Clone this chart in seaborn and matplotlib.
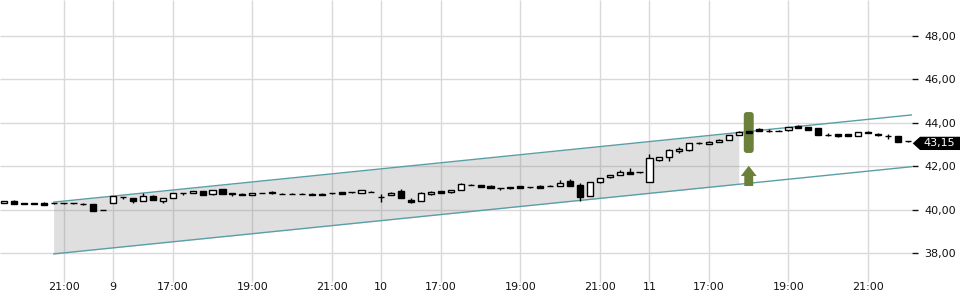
import numpy as np
import pandas as pd
import matplotlib
matplotlib.use("Agg")
import matplotlib.pyplot as plt
import seaborn as sns
from matplotlib.patches import FancyBboxPatch, Polygon
from matplotlib.ticker import FuncFormatter
import matplotlib.transforms as mtrans

# ---- data (15-minute candles) ----
opens = [40.31, 40.43, 40.32, 40.31, 40.30, 40.30, 40.30, 40.30, 40.29, 40.28,
         40.00, 40.31, 40.59, 40.54, 40.41, 40.65, 40.43, 40.55, 40.78, 40.78,
         40.86, 40.72, 40.95, 40.78, 40.75, 40.70, 40.77, 40.83, 40.75, 40.75,
         40.74, 40.75, 40.75, 40.77, 40.81, 40.81, 40.77, 40.84, 40.61, 40.68,
         40.87, 40.45, 40.40, 40.72, 40.87, 40.81, 40.92, 41.17, 41.15, 41.10,
         41.01, 41.06, 41.10, 41.06, 41.12, 41.12, 41.09, 41.32, 41.15, 40.64,
         41.27, 41.50, 41.60, 41.73, 41.73, 41.30, 42.31, 42.42, 42.70, 42.74,
         43.09, 43.03, 43.13, 43.22, 43.46, 43.63, 43.70, 43.65, 43.65, 43.66,
         43.86, 43.80, 43.76, 43.45, 43.48, 43.50, 43.40, 43.60, 43.51, 43.42,
         43.40, 43.15]
highs = [40.42, 40.44, 40.33, 40.32, 40.36, 40.31, 40.31, 40.33, 40.30, 40.29,
         40.01, 40.66, 40.60, 40.56, 40.77, 40.68, 40.56, 40.79, 40.79, 40.87,
         40.87, 40.94, 40.96, 40.79, 40.76, 40.79, 40.78, 40.86, 40.78, 40.78,
         40.76, 40.76, 40.76, 40.80, 40.82, 40.82, 40.91, 40.85, 40.72, 40.81,
         40.95, 40.55, 40.81, 40.88, 40.88, 40.91, 41.25, 41.21, 41.16, 41.15,
         41.02, 41.07, 41.11, 41.07, 41.13, 41.15, 41.38, 41.41, 41.26, 41.28,
         41.47, 41.62, 41.83, 41.94, 41.74, 42.56, 42.43, 42.80, 42.90, 43.08,
         43.14, 43.15, 43.27, 43.46, 43.61, 43.64, 43.76, 43.70, 43.66, 43.81,
         43.90, 43.81, 43.77, 43.52, 43.49, 43.51, 43.58, 43.61, 43.52, 43.50,
         43.41, 43.16]
lows = [40.30, 40.28, 40.27, 40.27, 40.24, 40.29, 40.29, 40.27, 40.24, 39.96,
        39.99, 40.30, 40.50, 40.34, 40.40, 40.44, 40.33, 40.54, 40.70, 40.77,
        40.67, 40.71, 40.73, 40.66, 40.69, 40.69, 40.76, 40.75, 40.72, 40.72,
        40.72, 40.67, 40.67, 40.74, 40.73, 40.80, 40.76, 40.83, 40.38, 40.67,
        40.56, 40.33, 40.39, 40.71, 40.77, 40.80, 40.91, 41.13, 41.04, 40.99,
        40.93, 40.98, 41.02, 40.99, 41.02, 41.09, 41.08, 41.08, 40.43, 40.63,
        41.22, 41.49, 41.59, 41.65, 41.72, 41.29, 42.24, 42.26, 42.60, 42.73,
        43.04, 43.02, 43.12, 43.21, 43.45, 43.55, 43.62, 43.60, 43.64, 43.65,
        43.75, 43.68, 43.44, 43.38, 43.35, 43.39, 43.39, 43.52, 43.42, 43.27,
        43.13, 43.14]
closes = [40.41, 40.29, 40.28, 40.28, 40.25, 40.30, 40.30, 40.30, 40.28, 39.97,
          40.00, 40.65, 40.58, 40.42, 40.64, 40.45, 40.55, 40.78, 40.78, 40.86,
          40.68, 40.93, 40.74, 40.73, 40.70, 40.78, 40.77, 40.76, 40.75, 40.75,
          40.74, 40.68, 40.68, 40.77, 40.74, 40.81, 40.90, 40.84, 40.61, 40.80,
          40.57, 40.38, 40.80, 40.84, 40.78, 40.90, 41.21, 41.17, 41.05, 41.00,
          41.01, 40.99, 41.03, 41.06, 41.03, 41.12, 41.23, 41.09, 40.61, 41.27,
          41.46, 41.61, 41.75, 41.66, 41.73, 42.38, 42.42, 42.76, 42.80, 43.07,
          43.09, 43.14, 43.23, 43.45, 43.60, 43.56, 43.64, 43.65, 43.65, 43.80,
          43.76, 43.69, 43.45, 43.45, 43.40, 43.40, 43.57, 43.53, 43.43, 43.42,
          43.14, 43.15]

tick_pos = [6, 11, 17, 25, 33, 38, 44, 52, 60, 65, 71, 79, 87]
tick_labels = ["21:00", "9", "17:00", "19:00", "21:00", "10", "17:00",
               "19:00", "21:00", "11", "17:00", "19:00", "21:00"]
y_ticks = [38, 40, 42, 44, 46, 48]

channel_x = [5, 91.44]
channel_upper = [40.36, 44.37]
channel_lower = [37.98, 41.99]
band_x = [5, 74]
band_upper = [40.36, 43.56]
band_lower = [37.98, 41.18]

signal_idx = 75
signal_bar = (42.62, 44.50)
signal_arrow = (41.10, 41.56, 42.03)   # bottom, head base, tip
last_price = 43.15

# ---- styling ----
sns.set_style("white")
plt.rcParams['font.family'] = ['DejaVu Sans']

fig = plt.figure(figsize=(9.6, 3.0), dpi=100)
ax = fig.add_axes([0, 0.01, 0.95, 0.99])
XMIN, XMAX = -0.40, 91.44
YMIN, YMAX = 36.0, 49.65
ax.set_xlim(XMIN, XMAX)
ax.set_ylim(YMIN, YMAX)
for s in ax.spines.values():
    s.set_visible(False)

grid_c = "#d9d9d9"
ax.hlines(y_ticks, XMIN, XMAX, colors=grid_c, lw=1, zorder=1)
ax.vlines(tick_pos, 36.69, YMAX, colors=grid_c, lw=1, zorder=1)

# channel band and lines
ax.fill_between(band_x, band_lower, band_upper, color="#808080", alpha=0.25,
                lw=0, zorder=1.5)
df_ch = pd.DataFrame({"x": channel_x, "upper": channel_upper, "lower": channel_lower})
teal = "#5a9fa5"
sns.lineplot(data=df_ch, x="x", y="upper", ax=ax, color=teal, lw=1, zorder=2)
sns.lineplot(data=df_ch, x="x", y="lower", ax=ax, color=teal, lw=1, zorder=2)

# signal marker
green = "#6b803a"
aspect = (1 / 21.76) / (1 / 9.93)
rect = FancyBboxPatch((signal_idx - 0.5, signal_bar[0]), 1.0, signal_bar[1] - signal_bar[0],
                      boxstyle="round,pad=0,rounding_size=0.3", mutation_aspect=aspect,
                      fc=green, ec="none", zorder=2.5)
ax.add_patch(rect)
b, hb, tip = signal_arrow
arrow = Polygon([(signal_idx - 0.45, b), (signal_idx + 0.45, b), (signal_idx + 0.45, hb),
                 (signal_idx + 0.8, hb), (signal_idx, tip), (signal_idx - 0.8, hb),
                 (signal_idx - 0.45, hb)], closed=True, fc=green, ec="none", zorder=2.5)
ax.add_patch(arrow)

# candles
x = np.arange(len(opens))
o = np.array(opens); c = np.array(closes)
ax.vlines(x, lows, highs, colors="black", lw=1, zorder=3)
bottoms = np.minimum(o, c)
heights = np.abs(c - o)
face = ["white" if cc > oo else "black" for oo, cc in zip(o, c)]
ax.bar(x, heights, bottom=bottoms, width=0.62, color=face, edgecolor="black",
       linewidth=1, zorder=4)

# axes ticks
ax.yaxis.tick_right()
ax.set_yticks(y_ticks)
ax.yaxis.set_major_formatter(FuncFormatter(lambda v, p: f"{v:.2f}".replace(".", ",")))
ax.tick_params(axis="y", direction="out", length=4, width=1, pad=5,
               labelsize=8, colors="#111111")
ax.set_xticks(tick_pos)
ax.set_xticklabels(tick_labels)
ax.tick_params(axis="x", direction="in", length=3.5, width=1, pad=-11,
               labelsize=8, colors="#111111")
ax.set_xlabel(""); ax.set_ylabel("")

# last price tag
tr = mtrans.blended_transform_factory(ax.transAxes, ax.transData)
yc = last_price - 0.09
hh = 0.305
tag = Polygon([(1.0008, yc), (1.0088, yc + hh), (1.06, yc + hh), (1.06, yc - hh),
               (1.0088, yc - hh)], closed=True, fc="black", ec="none",
              transform=tr, clip_on=False, zorder=6)
ax.add_patch(tag)
ax.text(1.0296, yc, f"{last_price:.2f}".replace(".", ","), transform=tr, ha="center",
        va="center", color="white", fontsize=8, zorder=7, clip_on=False)

fig.savefig("out.png", dpi=100)
